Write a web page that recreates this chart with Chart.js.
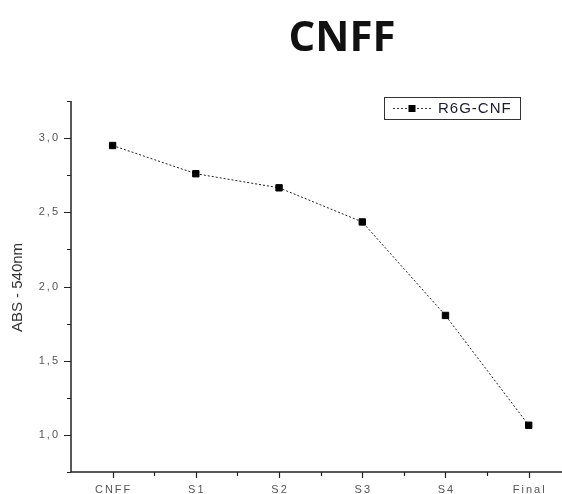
<!DOCTYPE html>
<html>
<head>
<meta charset="utf-8">
<title>CNFF</title>
<script src="https://cdn.jsdelivr.net/npm/chart.js@4.4.1/dist/chart.umd.min.js"></script>
<style>
  html, body { margin: 0; padding: 0; background: #fff; }
  canvas { display: block; }
</style>
</head>
<body>
<canvas id="chartCnff" width="562" height="494"></canvas>
<script>
// data
const categories = ['CNFF', 'S1', 'S2', 'S3', 'S4', 'Final'];
const absValues = [2.95, 2.76, 2.665, 2.435, 1.805, 1.065];
const yMajorTicks = [1.0, 1.5, 2.0, 2.5, 3.0];
const yTickLabels = ['1,0', '1,5', '2,0', '2,5', '3,0'];
const yMinorTicks = [0.75, 1.25, 1.75, 2.25, 2.75, 3.25];
const seriesName = 'R6G-CNF';

const axisColor = '#222';
const labelColor = '#555';

// axes, ticks, labels, title and legend in the Origin look
const originStyle = {
    id: 'originStyle',
    afterDraw(chart) {
        const ctx = chart.ctx;
        const xs = chart.scales.x;
        const ys = chart.scales.y;
        const area = chart.chartArea;

        ctx.save();
        ctx.strokeStyle = axisColor;
        ctx.lineWidth = 1.5;
        ctx.beginPath();
        ctx.moveTo(area.left, area.top);
        ctx.lineTo(area.left, area.bottom);
        ctx.lineTo(area.right, area.bottom);
        ctx.stroke();

        // ticks
        ctx.lineWidth = 1.2;
        ctx.beginPath();
        yMajorTicks.forEach(v => {
            const py = Math.round(ys.getPixelForValue(v)) + 0.5;
            ctx.moveTo(area.left - 7, py);
            ctx.lineTo(area.left, py);
        });
        yMinorTicks.forEach(v => {
            const py = Math.round(ys.getPixelForValue(v)) + 0.5;
            ctx.moveTo(area.left - 4, py);
            ctx.lineTo(area.left, py);
        });
        categories.forEach((c, i) => {
            const px = Math.round(xs.getPixelForValue(i)) + 0.5;
            ctx.moveTo(px, area.bottom);
            ctx.lineTo(px, area.bottom + 6);
            const mx = xs.getPixelForValue(i + 0.5);
            if (mx < area.right) {
                ctx.moveTo(Math.round(mx) + 0.5, area.bottom);
                ctx.lineTo(Math.round(mx) + 0.5, area.bottom + 4);
            }
        });
        ctx.stroke();

        // tick labels
        const spacing = 2;
        ctx.letterSpacing = spacing + 'px';
        ctx.fillStyle = labelColor;
        ctx.font = '11px "Liberation Sans", Arial, sans-serif';
        ctx.textAlign = 'right';
        ctx.textBaseline = 'middle';
        yMajorTicks.forEach((v, i) => {
            ctx.fillText(yTickLabels[i], area.left - 13 + spacing, ys.getPixelForValue(v));
        });
        ctx.textAlign = 'center';
        ctx.textBaseline = 'top';
        categories.forEach((c, i) => {
            ctx.fillText(c, xs.getPixelForValue(i) + spacing / 2, area.bottom + 12);
        });

        // y axis title
        ctx.letterSpacing = '0px';
        ctx.save();
        ctx.translate(18, (area.top + area.bottom) / 2 + 1);
        ctx.rotate(-Math.PI / 2);
        ctx.font = '15px "Liberation Sans", Arial, sans-serif';
        ctx.fillStyle = '#333';
        ctx.textAlign = 'center';
        ctx.textBaseline = 'middle';
        ctx.fillText('ABS - 540nm', 0, 0);
        ctx.restore();

        // big title
        ctx.font = 'bold 42px "Open Sans", sans-serif';
        ctx.fillStyle = '#111';
        ctx.textAlign = 'center';
        ctx.textBaseline = 'alphabetic';
        ctx.fillText('CNFF', 342, 51);

        // legend box
        ctx.strokeStyle = '#333';
        ctx.lineWidth = 1;
        ctx.strokeRect(384.5, 97.5, 136, 22);
        ctx.setLineDash([2, 2]);
        ctx.beginPath();
        ctx.moveTo(393, 108.5);
        ctx.lineTo(431, 108.5);
        ctx.stroke();
        ctx.setLineDash([]);
        ctx.fillStyle = '#000';
        ctx.fillRect(408.5, 105, 7, 7);
        ctx.letterSpacing = '1px';
        ctx.font = '15px "Liberation Sans", Arial, sans-serif';
        ctx.fillStyle = '#1c1c30';
        ctx.textAlign = 'left';
        ctx.textBaseline = 'middle';
        ctx.fillText(seriesName, 438, 109);
        ctx.restore();
    }
};

new Chart(document.getElementById('chartCnff'), {
    type: 'line',
    data: {
        datasets: [{
            label: seriesName,
            data: absValues.map((v, i) => ({ x: i, y: v })),
            borderColor: '#222',
            borderWidth: 1,
            borderDash: [2, 2],
            pointStyle: 'rect',
            pointRadius: 4.5,
            pointBorderWidth: 1,
            pointBackgroundColor: '#000',
            pointBorderColor: '#000',
            fill: false,
            tension: 0
        }]
    },
    options: {
        responsive: false,
        animation: false,
        layout: { autoPadding: false, padding: { top: 101, left: 0, right: 0, bottom: 0 } },
        scales: {
            x: {
                type: 'linear',
                min: -0.5,
                max: 5.4,
                afterFit: s => { s.height = 22; },
                grid: { display: false },
                border: { display: false },
                ticks: { display: false }
            },
            y: {
                min: 0.75,
                max: 3.25,
                afterFit: s => { s.width = 71; },
                grid: { display: false },
                border: { display: false },
                ticks: { display: false }
            }
        },
        plugins: {
            legend: { display: false },
            tooltip: { enabled: false }
        }
    },
    plugins: [originStyle]
});
</script>
</body>
</html>
